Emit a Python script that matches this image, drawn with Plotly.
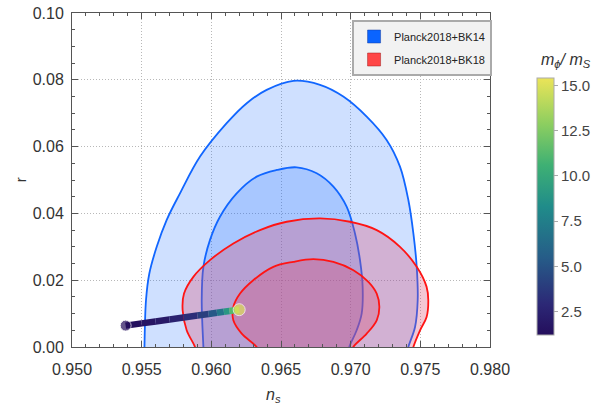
import plotly.graph_objects as go
from plotly.colors import sample_colorscale

# ---- contour data (ns, r) ----
bk14_outer_ns = [0.95519, 0.95520, 0.95531, 0.95555, 0.95608, 0.95679, 0.95775, 0.95919, 0.9611, 0.96254,
                 0.96397, 0.96589, 0.9678, 0.96947, 0.97115, 0.97258, 0.97354, 0.97414, 0.9745, 0.97474,
                 0.97481, 0.97462, 0.97414, 0.97405]
bk14_outer_r = [-0.002, 0.0, 0.014, 0.022, 0.030, 0.038, 0.046, 0.057, 0.067, 0.073,
                0.077, 0.0797, 0.0785, 0.075, 0.069, 0.062, 0.054, 0.044, 0.034, 0.024,
                0.014, 0.006, 0.0, -0.002]

bk14_inner_ns = [0.95945, 0.95943, 0.95931, 0.95943, 0.9599, 0.96062, 0.96182, 0.96325, 0.96469, 0.96612,
                 0.96756, 0.96876, 0.96971, 0.97031, 0.97067, 0.97086, 0.97079, 0.97043, 0.9699, 0.9698]
bk14_inner_r = [-0.002, 0.0, 0.014, 0.024, 0.032, 0.039, 0.046, 0.051, 0.053, 0.0538,
                0.052, 0.048, 0.042, 0.034, 0.026, 0.018, 0.010, 0.005, 0.0, -0.002]

bk18_outer_ns = [0.95895, 0.95883, 0.95823, 0.95794, 0.95804, 0.95871, 0.9599, 0.96158, 0.96349, 0.96541,
                 0.9678, 0.96995, 0.97187, 0.97354, 0.97474, 0.97545, 0.97557, 0.97545, 0.97498, 0.9745,
                 0.9744]
bk18_outer_r = [-0.002, 0.0, 0.005, 0.011, 0.016, 0.021, 0.026, 0.031, 0.035, 0.0375,
                0.0385, 0.0375, 0.035, 0.030, 0.024, 0.018, 0.014, 0.009, 0.005, 0.0,
                -0.002]

bk18_inner_ns = [0.96345, 0.96325, 0.96218, 0.96158, 0.96158, 0.96206, 0.96301, 0.96445, 0.96589, 0.96732,
                 0.96876, 0.9702, 0.97127, 0.97187, 0.97206, 0.97187, 0.97115, 0.97019, 0.97]
bk18_inner_r = [-0.002, 0.0, 0.004, 0.008, 0.012, 0.016, 0.020, 0.024, 0.0255, 0.0263,
                0.0255, 0.023, 0.0195, 0.016, 0.012, 0.008, 0.004, 0.0, -0.002]

# ---- model prediction curve ----
model_ns = [0.95385, 0.9550, 0.9560, 0.9570, 0.9580, 0.9590, 0.9598, 0.9604, 0.9609, 0.9613, 0.9617, 0.9620]
model_r = [0.0064, 0.00707, 0.00766, 0.00824, 0.00883, 0.00941, 0.00988, 0.01023, 0.01053, 0.01076, 0.01099, 0.01117]
model_m = [1.2, 1.5, 1.8, 2.2, 2.8, 3.6, 4.5, 6.0, 8.0, 10.0, 12.5, 15.0]

m_min, m_max = 1.2, 15.4

x_ticks = [0.950, 0.955, 0.960, 0.965, 0.970, 0.975, 0.980]
y_ticks = [0.00, 0.02, 0.04, 0.06, 0.08, 0.10]
cb_ticks = [2.5, 5.0, 7.5, 10.0, 12.5, 15.0]

CSCALE = [[0.0, "rgb(36,14,92)"], [0.12, "rgb(44,40,118)"], [0.3, "rgb(38,92,136)"],
          [0.5, "rgb(32,140,138)"], [0.66, "rgb(62,176,116)"], [0.82, "rgb(140,206,96)"],
          [1.0, "rgb(235,228,88)"]]

BLUE = "rgb(17,102,255)"
RED = "rgb(255,20,20)"
blue_fill = "rgba(17,102,255,0.20)"
red_fill = "rgba(220,70,110,0.30)"
FONT = "Liberation Sans, Arial"

fig = go.Figure()

def contour(xs, ys, line_col, fill_col):
    fig.add_trace(go.Scatter(x=xs, y=ys, mode="lines", fill="toself", fillcolor=fill_col,
                             line=dict(color=line_col, width=1.8, shape="spline", smoothing=1.0),
                             showlegend=False, hoverinfo="skip"))

contour(bk14_outer_ns, bk14_outer_r, BLUE, blue_fill)
contour(bk14_inner_ns, bk14_inner_r, BLUE, blue_fill)
contour(bk18_outer_ns, bk18_outer_r, RED, red_fill)
contour(bk18_inner_ns, bk18_inner_r, RED, red_fill)

# gradient line as segments
for i in range(len(model_ns) - 1):
    mm = (model_m[i] + model_m[i + 1]) / 2
    col = sample_colorscale(CSCALE, [(mm - m_min) / (m_max - m_min)])[0]
    fig.add_trace(go.Scatter(x=model_ns[i:i + 2], y=model_r[i:i + 2], mode="lines",
                             line=dict(color=col, width=6.5), showlegend=False, hoverinfo="skip"))

# end points + colorbar
fig.add_trace(go.Scatter(
    x=[model_ns[0], model_ns[-1]], y=[model_r[0], model_r[-1]], mode="markers",
    marker=dict(size=[11, 12], color=[model_m[0], model_m[-1]], colorscale=CSCALE,
                cmin=m_min, cmax=m_max, showscale=True,
                colorbar=dict(x=1.1124, xanchor="left", xpad=0, y=0.42, yanchor="middle",
                              lenmode="pixels", len=257, ypad=0,
                              thickness=17, outlinewidth=1, outlinecolor="#aaa",
                              tickvals=cb_ticks, ticktext=["%.1f" % v for v in cb_ticks],
                              ticks="outside", ticklen=4, tickcolor="#aaa",
                              tickfont=dict(family=FONT, size=15, color="#444"))),
    showlegend=False, cliponaxis=False, hoverinfo="skip"))

# legend proxies
fig.add_trace(go.Scatter(x=[None], y=[None], mode="markers", name="Planck2018+BK14", legendgroup="a",
                         marker=dict(symbol="square", size=13, color="rgb(10,100,255)",
                                     line=dict(color="rgb(20,60,160)", width=0.5))))
fig.add_trace(go.Scatter(x=[None], y=[None], mode="markers", name="Planck2018+BK18", legendgroup="b",
                         marker=dict(symbol="square", size=13, color="rgb(255,70,70)",
                                     line=dict(color="rgb(160,30,30)", width=0.5))))

axis_common = dict(showline=True, linecolor="#555", linewidth=1, mirror="allticks",
                   ticks="inside", ticklen=6, tickcolor="#555", tickwidth=1,
                   showgrid=True, gridcolor="#b8b8b8", griddash="1px,2px", gridwidth=1,
                   zeroline=False, automargin=False,
                   tickfont=dict(family=FONT, size=16, color="#333"))

fig.update_xaxes(range=[0.95, 0.98], tickvals=x_ticks, ticktext=["%.3f" % v for v in x_ticks],
                 minor=dict(dtick=0.001, tick0=0.95, ticks="inside", ticklen=3, tickcolor="#555"),
                 ticklabelstandoff=8, **axis_common)
fig.update_yaxes(range=[0, 0.1], tickvals=y_ticks, ticktext=["%.2f" % v for v in y_ticks],
                 minor=dict(dtick=0.005, tick0=0, ticks="inside", ticklen=3, tickcolor="#555"),
                 ticklabelstandoff=4, **axis_common)

# axis titles and colorbar title
fig.add_annotation(xref="paper", yref="paper", x=-0.124, y=0.5, xanchor="center", yanchor="middle",
                   textangle=-90, text="r", showarrow=False,
                   font=dict(family=FONT, size=15, color="#333"))
fig.add_annotation(xref="paper", yref="paper", x=0.481, y=-0.144, xanchor="center", yanchor="middle",
                   text="<i>n<sub>s</sub></i>", showarrow=False,
                   font=dict(family=FONT, size=16, color="#333"))
fig.add_annotation(xref="paper", yref="paper", x=1.181, y=0.859, xanchor="center", yanchor="middle",
                   text="<i>m<sub>ϕ</sub>/ m<sub>S</sub></i>", showarrow=False,
                   font=dict(family=FONT, size=16, color="#333"))

fig.update_layout(
    width=600, height=408,
    margin=dict(l=72, r=110, t=13, b=61, autoexpand=False),
    paper_bgcolor="white", plot_bgcolor="white",
    legend=dict(x=0.67, y=0.979, xanchor="left", yanchor="top",
                bgcolor="#f2f2f2", bordercolor="#aaaaaa", borderwidth=2,
                font=dict(family=FONT, size=11, color="#222"),
                tracegroupgap=4, itemwidth=30),
)

fig.write_html("out.html")
